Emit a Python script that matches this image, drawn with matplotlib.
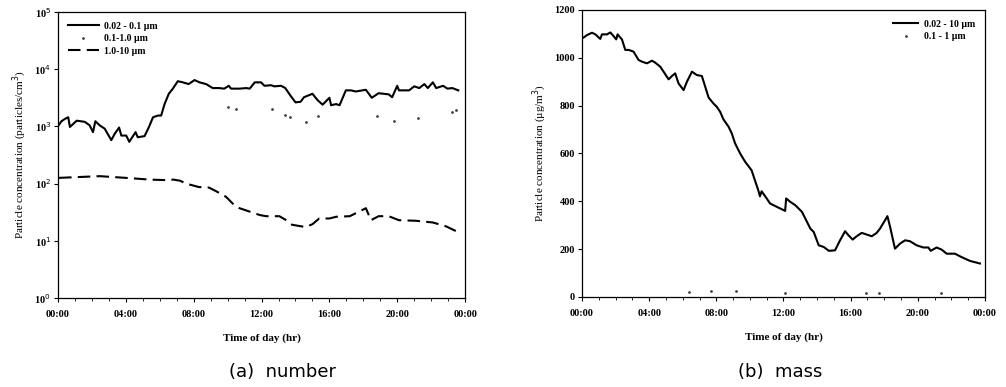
import matplotlib
matplotlib.use("Agg")
import matplotlib.pyplot as plt
from matplotlib.ticker import MultipleLocator, FixedLocator

# ---------------- data: panel (a) number concentration ----------------
uf_hours = [0.06, 0.2, 0.4, 0.6, 0.7, 1.1, 1.57, 1.86, 2.06, 2.2, 2.45, 2.75, 3.14, 3.34, 3.6, 3.73,
            4.02, 4.2, 4.57, 4.7, 5.1, 5.36, 5.6, 5.9, 6.08, 6.28, 6.53, 6.77, 7.06, 7.36, 7.7, 8.05,
            8.34, 8.73, 9.12, 9.5, 9.8, 10.07, 10.2, 10.7, 11.1, 11.3, 11.6, 11.97, 12.17, 12.56,
            12.75, 13.15, 13.4, 13.7, 14.0, 14.3, 14.5, 15.0, 15.3, 15.6, 16.0, 16.1, 16.4, 16.6,
            16.97, 17.27, 17.56, 18.15, 18.5, 18.9, 19.5, 19.7, 20.0, 20.1, 20.7, 21.0, 21.3, 21.6,
            21.8, 22.1, 22.3, 22.7, 22.96, 23.25, 23.6]
uf_log = [3.03, 3.09, 3.13, 3.16, 2.99, 3.10, 3.08, 3.02, 2.90, 3.09, 3.02, 2.96, 2.76, 2.87, 2.98, 2.84,
          2.84, 2.73, 2.90, 2.81, 2.83, 2.99, 3.16, 3.19, 3.19, 3.39, 3.57, 3.66, 3.79, 3.77, 3.74, 3.81,
          3.77, 3.74, 3.67, 3.67, 3.66, 3.71, 3.66, 3.66, 3.67, 3.66, 3.77, 3.77, 3.71, 3.72,
          3.70, 3.71, 3.67, 3.54, 3.42, 3.43, 3.51, 3.57, 3.46, 3.38, 3.50, 3.37, 3.39, 3.37,
          3.63, 3.63, 3.61, 3.64, 3.50, 3.58, 3.56, 3.51, 3.71, 3.63, 3.63, 3.70, 3.67, 3.74,
          3.67, 3.77, 3.67, 3.71, 3.66, 3.67, 3.63]
uf_values = [10 ** v for v in uf_log]

fine_hours = [10.0, 10.5, 12.6, 13.4, 13.7, 14.6, 15.3, 18.8, 19.8, 21.2, 23.2, 23.45]
fine_values = [2180, 2050, 2050, 1600, 1450, 1200, 1550, 1500, 1250, 1400, 1800, 1950]

coarse_hours = [0.06, 2.45, 4.0, 5.4, 6.4, 6.8, 7.2, 7.55, 8.3, 8.9, 9.3, 9.9, 10.3, 10.7, 11.3, 11.9,
                12.26, 13.05, 13.4, 13.8, 14.2, 14.6, 15.0, 15.4, 16.0, 16.4, 17.2, 17.75, 18.15,
                18.45, 18.9, 19.5, 20.1, 21.1, 22.1, 22.9, 23.6]
coarse_log = [2.10, 2.13, 2.10, 2.07, 2.06, 2.07, 2.05, 2.00, 1.94, 1.93, 1.87, 1.77, 1.65, 1.57, 1.51, 1.45,
              1.43, 1.43, 1.37, 1.28, 1.26, 1.24, 1.29, 1.39, 1.39, 1.42, 1.43, 1.51, 1.57,
              1.36, 1.43, 1.43, 1.36, 1.35, 1.32, 1.25, 1.15]
coarse_values = [10 ** v for v in coarse_log]

# ---------------- data: panel (b) mass concentration ----------------
mass_hours = [0.1, 0.3, 0.6, 0.8, 1.09, 1.19, 1.49, 1.69, 1.88, 2.04, 2.12, 2.38, 2.58, 2.78, 3.07, 3.37,
              3.57, 3.87, 4.17, 4.36, 4.66, 4.86, 5.16, 5.36, 5.55, 5.75, 6.05, 6.25, 6.55, 6.84, 7.14,
              7.34, 7.54, 7.83, 8.03, 8.23, 8.43, 8.73, 8.92, 9.12, 9.42, 9.72, 10.1, 10.3, 10.5, 10.6,
              10.7, 11.0, 11.2, 11.6, 12.1, 12.16, 12.4, 12.7, 13.1, 13.3, 13.6, 13.8, 14.1, 14.4, 14.7,
              15.07, 15.37, 15.67, 15.87, 16.12, 16.36, 16.66, 16.96, 17.26, 17.55, 17.75, 18.05, 18.19,
              18.35, 18.64, 18.94, 19.24, 19.54, 19.93, 20.33, 20.63, 20.77, 21.12, 21.42, 21.72, 22.21,
              22.6, 23.1, 23.7]
mass_total = [1085, 1095, 1105, 1098, 1079, 1098, 1098, 1106, 1091, 1077, 1098, 1077, 1033, 1033, 1026, 991,
              984, 977, 988, 980, 963, 942, 910, 924, 935, 893, 865, 900, 942, 928, 924,
              879, 834, 809, 795, 774, 742, 712, 684, 642, 600, 565, 530, 488, 446, 421,
              442, 412, 391, 377, 360, 412, 398, 384, 356, 328, 286, 272, 216, 209, 193,
              195, 237, 275, 258, 240, 254, 268, 261, 254, 268, 286, 321, 338,
              293, 202, 223, 237, 233, 216, 207, 207, 193, 207, 198, 181, 181,
              167, 151, 140]

fine_mass_hours = [6.4, 7.7, 9.2, 12.1, 16.9, 17.7, 21.4]
fine_mass_values = [20, 27, 25, 18, 15, 17, 16]

xtick_hours = [0, 4, 8, 12, 16, 20, 24]
xtick_labels = ["00:00", "04:00", "08:00", "12:00", "16:00", "20:00", "00:00"]

# ---------------- styling ----------------
serif = ["Liberation Serif", "DejaVu Serif"]

fig = plt.figure(figsize=(10.06, 3.87), dpi=100)
axA = fig.add_axes([0.0577, 0.230, 0.4046, 0.739])
axB = fig.add_axes([0.5785, 0.2326, 0.4006, 0.7416])

def style_axis(ax):
    ax.set_xlim(0, 24)
    ax.set_xticks(xtick_hours)
    ax.set_xticklabels(xtick_labels)
    ax.xaxis.set_minor_locator(MultipleLocator(1))
    ax.tick_params(axis="both", which="major", direction="out", length=3, width=0.8, pad=2)
    ax.tick_params(axis="x", which="minor", direction="out", length=2, width=0.6)
    ax.tick_params(axis="x", pad=6)
    for lab in ax.get_xticklabels() + ax.get_yticklabels():
        lab.set_fontfamily(serif)
        lab.set_fontweight("bold")
        lab.set_fontsize(7.5)
    for sp in ax.spines.values():
        sp.set_linewidth(0.9)
    ax.set_xlabel("Time of day (hr)", family=serif, weight="bold", size=8, labelpad=10)

# panel (a)
axA.plot(uf_hours, uf_values, color="black", lw=1.5, label="0.02 - 0.1 µm")
axA.plot(fine_hours, fine_values, color="#444444", ls="none", marker=".", ms=2, label="0.1-1.0 µm")
axA.plot(coarse_hours, coarse_values, color="black", lw=1.5, ls=(0, (6, 3)), label="1.0-10 µm")
axA.set_yscale("log")
axA.set_ylim(1, 1e5)
axA.set_yticks([1, 10, 100, 1000, 1e4, 1e5])
axA.set_yticklabels([r"10$^0$", r"10$^1$", r"10$^2$", r"10$^3$", r"10$^4$", r"10$^5$"])
axA.yaxis.set_minor_locator(FixedLocator([]))
style_axis(axA)
axA.set_ylabel("Particle concentration (particles/cm$^3$)", family=serif, size=8, labelpad=4)
axA.legend(loc="upper left", frameon=False, prop=dict(family=serif, weight="bold", size=7),
           handlelength=3.2, handletextpad=0.5, labelspacing=0.35, borderaxespad=0.6, numpoints=1)

# panel (b)
axB.plot(mass_hours, mass_total, color="black", lw=1.5, label="0.02 - 10 µm")
axB.plot(fine_mass_hours, fine_mass_values, color="#444444", ls="none", marker=".", ms=2,
         label="0.1 - 1 µm")
axB.set_ylim(0, 1200)
axB.set_yticks([0, 200, 400, 600, 800, 1000, 1200])
style_axis(axB)
axB.set_ylabel("Particle concentration (µg/m$^3$)", family=serif, size=8, labelpad=4)
axB.legend(loc="upper right", frameon=False, prop=dict(family=serif, weight="bold", size=7),
           handlelength=2.6, handletextpad=0.6, labelspacing=0.35, borderaxespad=0.6, numpoints=1)

fig.text(0.281, 0.04, "(a)  number", ha="center", va="center", family=["DejaVu Sans"], size=13)
fig.text(0.776, 0.04, "(b)  mass", ha="center", va="center", family=["DejaVu Sans"], size=13)

fig.savefig("out.png", dpi=100)
